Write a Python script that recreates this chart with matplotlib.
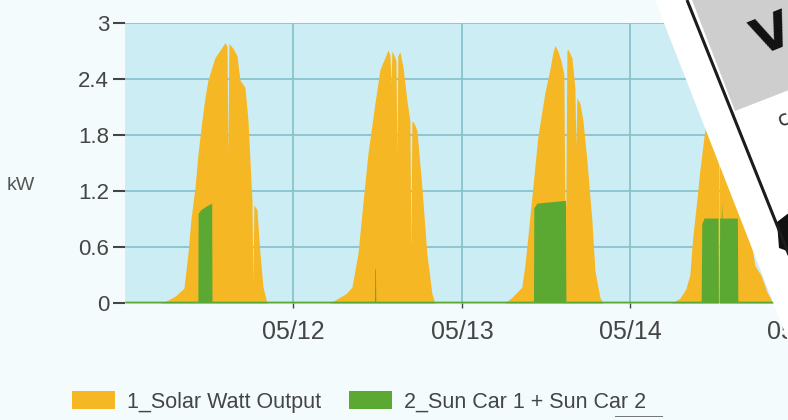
#!/usr/bin/env python3
"""
Solar output vs. car charging, 05/11 - 05/15, with the tilted card overlay.
"""

import matplotlib
matplotlib.use("Agg")
import matplotlib.pyplot as plt
from matplotlib.patches import Polygon, Rectangle

# ── data (hours since 05/11 00:00, kW) ───────────────────────────────────────
day1_hours = [4.99, 6.12, 7.26, 8.40, 8.97, 9.40, 9.97, 10.40, 10.97, 11.39,
              11.82, 12.82, 13.82, 14.24, 14.53, 14.67, 14.81, 15.38, 15.95,
              16.38, 17.09, 17.52, 18.09, 18.23, 18.37, 18.80, 19.23, 19.66, 20.23]
day1_solar = [0.0, 0.03, 0.08, 0.16, 0.53, 0.9, 1.24, 1.6, 1.96, 2.2,
              2.39, 2.63, 2.74, 2.79, 2.75, 1.6, 2.78, 2.73, 2.65,
              2.39, 2.31, 1.96, 1.1, 0.2, 1.05, 1.0, 0.53, 0.17, 0.0]

day2_hours = [29.20, 30.34, 31.48, 32.33, 32.76, 33.19, 33.90, 34.61, 35.61, 36.32,
              37.04, 37.46, 37.75, 37.89, 38.03, 38.17, 38.60, 38.74, 38.88, 39.17,
              39.60, 40.17, 40.59, 40.73, 40.88, 41.16, 41.59, 42.30, 43.01, 43.73, 44.15]
day2_solar = [0.0, 0.05, 0.1, 0.17, 0.35, 0.53, 1.07, 1.6, 2.14, 2.5,
              2.63, 2.71, 2.66, 2.35, 2.7, 2.68, 2.6, 1.6, 2.65, 2.69,
              2.53, 2.17, 1.95, 0.53, 1.95, 1.93, 1.85, 1.24, 0.53, 0.1, 0.0]

day3_hours = [54.12, 55.12, 56.54, 56.97, 57.40, 58.11, 58.82, 59.82, 60.53, 60.96,
              61.25, 61.67, 62.10, 62.53, 62.67, 62.81, 62.96, 63.10, 63.67, 64.10,
              64.24, 64.38, 64.81, 65.24, 65.81, 66.52, 66.95, 67.66, 68.08]
day3_solar = [0.0, 0.06, 0.17, 0.4, 0.71, 1.24, 1.78, 2.25, 2.5, 2.68,
              2.76, 2.7, 2.6, 2.45, 1.05, 1.05, 2.7, 2.72, 2.63, 2.31,
              1.67, 2.2, 2.14, 1.96, 1.53, 0.89, 0.35, 0.06, 0.0]

day4_hours = [77.91, 79.05, 79.90, 80.47, 80.90, 81.47, 81.90, 82.61, 83.32, 84.18,
              84.52, 84.60, 84.68, 84.90, 85.75, 86.61, 87.32, 88.04, 88.89, 89.75,
              90.60, 91.45, 92.30]
day4_solar = [0.0, 0.05, 0.15, 0.3, 0.71, 1.1, 1.42, 1.85, 2.3, 2.62,
              2.66, 0.0, 2.7, 2.75, 2.6, 2.3, 1.8, 1.3, 0.8, 0.4,
              0.3, 0.12, 0.0]

car_hours = [0.0, 10.38, 10.42, 10.8, 11.6, 12.35, 12.39,
             35.55, 35.60, 35.68, 35.73,
             58.20, 58.25, 58.70, 60.0, 61.5, 62.75, 62.82,
             82.10, 82.18, 82.50, 84.50, 84.55, 84.68, 84.72, 84.95, 85.0, 85.07,
             87.25, 87.31, 108.0]
car_kw = [0.02, 0.02, 0.96, 1.0, 1.04, 1.07, 0.02,
          0.02, 0.37, 0.37, 0.02,
          0.02, 1.02, 1.07, 1.08, 1.09, 1.1, 0.02,
          0.02, 0.85, 0.91, 0.91, 0.0, 0.0, 0.91, 0.91, 1.08, 0.91,
          0.91, 0.02, 0.02]

y_ticks = [0, 0.6, 1.2, 1.8, 2.4, 3]
y_tick_labels = ["0", "0.6", "1.2", "1.8", "2.4", "3"]
x_ticks = [24, 48, 72, 96]
x_tick_labels = ["05/12", "05/13", "05/14", "05/15"]
series_names = ["1_Solar Watt Output", "2_Sun Car 1 + Sun Car 2"]

# ── style ────────────────────────────────────────────────────────────────────
FIG_BG = "#f3fbfd"
PLOT_BG = "#cdedf5"
GRID = "#88c4cd"
ORANGE = "#f5b724"
GREEN = "#5ba933"
TEXT = "#454545"
W, H = 788, 420

plt.rcParams["font.family"] = ["Liberation Sans", "DejaVu Sans"]

fig = plt.figure(figsize=(W / 100, H / 100), dpi=100, facecolor=FIG_BG)

# plot area runs past the right edge of the picture, like the cropped original
ax = fig.add_axes([125 / W, 1 - 303 / H, 758 / W, 280 / H])
ax.set_facecolor(PLOT_BG)
ax.set_xlim(0, 108)
ax.set_ylim(0, 3)

solar_hours = [0.0] + day1_hours + day2_hours + day3_hours + day4_hours + [108.0]
solar_kw = [0.0] + day1_solar + day2_solar + day3_solar + day4_solar + [0.0]

ax.fill_between(solar_hours, solar_kw, color=ORANGE, lw=0, label=series_names[0])
ax.fill_between(car_hours, car_kw, color=GREEN, lw=0, label=series_names[1])

ax.set_axisbelow(True)
ax.grid(True, color=GRID, lw=1.3)
for s in ax.spines.values():
    s.set_visible(False)

ax.set_yticks(y_ticks)
ax.set_yticklabels(y_tick_labels)
ax.set_xticks(x_ticks)
ax.set_xticklabels(x_tick_labels)
ax.tick_params(axis="y", length=8.5, width=1.5, color=TEXT, pad=3,
               labelsize=16, labelcolor=TEXT)
ax.tick_params(axis="x", length=3.5, width=1.0, color=TEXT, pad=9,
               labelsize=18, labelcolor=TEXT)

fig.text(7 / W, 1 - 185 / H, "kW", fontsize=14, color="#555555",
         ha="left", va="center")

fig.legend(loc="center left", bbox_to_anchor=(72 / W, 1 - 402 / H), ncol=2,
           frameon=False, fontsize=15.5, handlelength=2.0, handleheight=0.85,
           handletextpad=0.55, columnspacing=1.3, borderpad=0, borderaxespad=0,
           labelcolor=TEXT)

# ── tilted card lying over the top-right corner ─────────────────────────────
ov = fig.add_axes([0, 0, 1, 1], zorder=10)
ov.set_xlim(0, W)
ov.set_ylim(H, 0)
ov.axis("off")
ov.patch.set_alpha(0)

ov.add_patch(Polygon([(655, 0), (820, 0), (820, 425), (655 + 0.39 * 425, 425)],
                     closed=True, facecolor="white", edgecolor="none"))
ov.add_patch(Polygon([(692, 0), (820, 0), (820, 78), (735, 111)],
                     closed=True, facecolor="#cecece", edgecolor="none"))
ov.plot([687, 687 + 0.4 * 300], [0, 300], color="#1c1c1c", lw=2.2,
        solid_capstyle="butt")
ov.text(772, 36, "V", fontsize=36, fontweight="bold", color="#111111",
        rotation=22, ha="center", va="center", family="DejaVu Sans")
ov.text(784, 119, "c", fontsize=15, color="#333333", rotation=22,
        ha="center", va="center", family="DejaVu Sans")
ov.add_patch(Polygon([(777, 222), (790, 212), (790, 252), (779, 248)],
                     closed=True, facecolor="#111111", edgecolor="none"))
ov.add_patch(Rectangle((615, 415.5), 48, 1.2, facecolor="#777777",
                       edgecolor="none"))

fig.savefig("out.png", dpi=100, facecolor=FIG_BG)
